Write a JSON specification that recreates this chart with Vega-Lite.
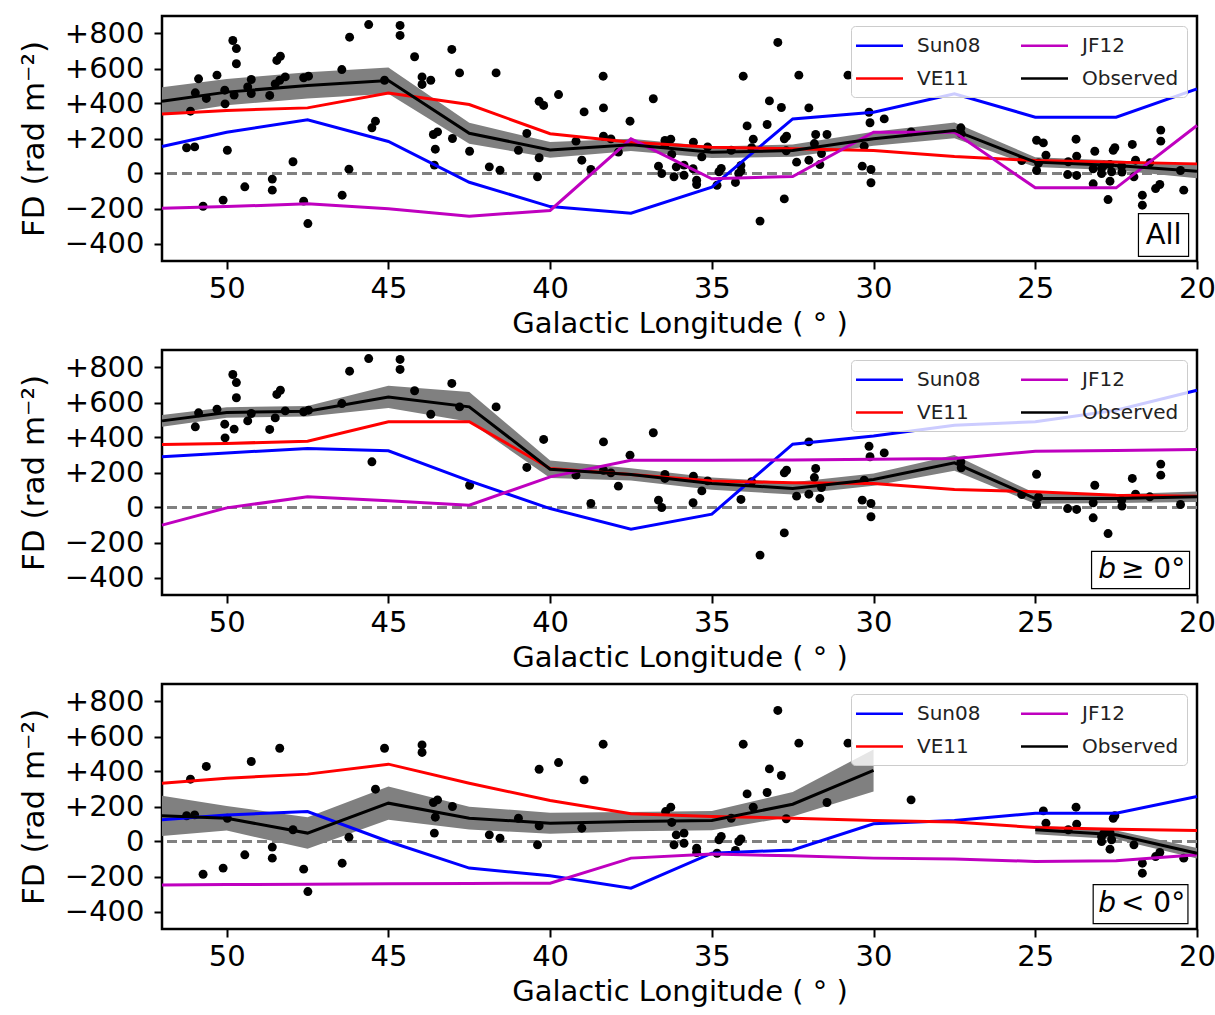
{
"$schema":"https://vega.github.io/schema/vega-lite/v6.json",
"padding":{"left":17,"top":14,"right":0,"bottom":0},
"spacing":8,
"config":{
 "font":"DejaVu Sans",
 "view":{"stroke":"black","strokeWidth":2.5},
 "axis":{"domain":false,"grid":false,"tickColor":"black","tickWidth":2,"tickSize":8,"labelFontSize":29,"labelColor":"black","labelFont":"DejaVu Sans","titleFont":"DejaVu Sans","titleFontSize":29,"titleFontWeight":"normal","titleColor":"black","labelPadding":5,"tickCount":7,"labelFlush":false},
 "axisX":{"titlePadding":6},
 "axisY":{"labelPadding":10,"titlePadding":14,"titleFontSize":31,"labelExpr":"datum.value > 0 ? '+' + datum.label : datum.label"},
 "legend":{"title":null,"orient":"top-right","offset":10,"columns":2,"symbolType":"M-2.35,0H2.35","symbolStrokeWidth":2.5,"symbolSize":400,"symbolOffset":9,"labelFontSize":20,"labelFont":"DejaVu Sans","labelColor":"#222222","labelOffset":26,"rowPadding":11,"columnPadding":35,"padding":8,"fillColor":"rgba(255,255,255,0.8)","strokeColor":"#cccccc","cornerRadius":4,"labelLimit":0}
},
"resolve":{"scale":{"color":"independent"},"legend":{"color":"independent"}},
"datasets":{
"pts":[
{"l":50.87,"fd":541,"b":"p"},{"l":50.97,"fd":461,"b":"p"},{"l":50.30,"fd":562,"b":"p"},{"l":50.06,"fd":476,"b":"p"},{"l":50.05,"fd":398,"b":"p"},{"l":49.77,"fd":448,"b":"p"},{"l":49.81,"fd":760,"b":"p"},{"l":49.70,"fd":714,"b":"p"},{"l":49.70,"fd":627,"b":"p"},{"l":49.35,"fd":495,"b":"p"},{"l":49.24,"fd":537,"b":"p"},{"l":48.67,"fd":446,"b":"p"},{"l":48.50,"fd":512,"b":"p"},{"l":48.45,"fd":646,"b":"p"},{"l":48.34,"fd":670,"b":"p"},{"l":48.19,"fd":552,"b":"p"},{"l":47.62,"fd":547,"b":"p"},{"l":47.47,"fd":556,"b":"p"},{"l":46.44,"fd":594,"b":"p"},{"l":46.20,"fd":779,"b":"p"},{"l":45.61,"fd":851,"b":"p"},{"l":45.51,"fd":261,"b":"p"},{"l":44.64,"fd":846,"b":"p"},{"l":44.64,"fd":789,"b":"p"},{"l":44.19,"fd":667,"b":"p"},{"l":43.69,"fd":533,"b":"p"},{"l":43.04,"fd":709,"b":"p"},{"l":42.80,"fd":575,"b":"p"},{"l":42.49,"fd":127,"b":"p"},{"l":41.67,"fd":575,"b":"p"},{"l":40.72,"fd":229,"b":"p"},{"l":40.20,"fd":389,"b":"p"},{"l":39.20,"fd":185,"b":"p"},{"l":38.74,"fd":23,"b":"p"},{"l":38.35,"fd":375,"b":"p"},{"l":38.35,"fd":213,"b":"p"},{"l":38.12,"fd":198,"b":"p"},{"l":37.89,"fd":122,"b":"p"},{"l":37.53,"fd":299,"b":"p"},{"l":36.81,"fd":427,"b":"p"},{"l":36.65,"fd":42,"b":"p"},{"l":36.55,"fd":0,"b":"p"},{"l":36.45,"fd":189,"b":"p"},{"l":36.45,"fd":166,"b":"p"},
{"l":35.57,"fd":179,"b":"p"},{"l":35.58,"fd":27,"b":"p"},{"l":35.31,"fd":95,"b":"p"},{"l":35.13,"fd":152,"b":"p"},{"l":34.10,"fd":46,"b":"p"},{"l":33.77,"fd":147,"b":"p"},{"l":33.51,"fd":-272,"b":"p"},{"l":32.76,"fd":-145,"b":"p"},{"l":32.76,"fd":198,"b":"p"},{"l":32.69,"fd":213,"b":"p"},{"l":32.38,"fd":65,"b":"p"},{"l":32.00,"fd":375,"b":"p"},{"l":32.00,"fd":76,"b":"p"},{"l":31.83,"fd":171,"b":"p"},{"l":31.79,"fd":223,"b":"p"},{"l":31.66,"fd":51,"b":"p"},{"l":31.61,"fd":114,"b":"p"},{"l":30.35,"fd":42,"b":"p"},{"l":30.29,"fd":156,"b":"p"},{"l":30.14,"fd":350,"b":"p"},{"l":30.11,"fd":290,"b":"p"},{"l":30.08,"fd":23,"b":"p"},{"l":30.08,"fd":-53,"b":"p"},{"l":29.67,"fd":312,"b":"p"},{"l":27.30,"fd":261,"b":"p"},{"l":27.29,"fd":227,"b":"p"},{"l":25.42,"fd":74,"b":"p"},{"l":24.96,"fd":190,"b":"p"},{"l":24.96,"fd":17,"b":"p"},{"l":24.90,"fd":60,"b":"p"},{"l":24.00,"fd":-6,"b":"p"},{"l":23.72,"fd":-11,"b":"p"},{"l":23.21,"fd":-59,"b":"p"},{"l":23.21,"fd":27,"b":"p"},{"l":23.16,"fd":127,"b":"p"},{"l":22.75,"fd":-149,"b":"p"},{"l":22.33,"fd":42,"b":"p"},{"l":22.32,"fd":8,"b":"p"},{"l":22.00,"fd":166,"b":"p"},{"l":21.90,"fd":76,"b":"p"},{"l":21.46,"fd":61,"b":"p"},{"l":21.12,"fd":248,"b":"p"},{"l":21.12,"fd":185,"b":"p"},{"l":20.51,"fd":17,"b":"p"},
{"l":51.24,"fd":147,"b":"n"},{"l":50.99,"fd":152,"b":"n"},{"l":51.12,"fd":356,"b":"n"},{"l":50.63,"fd":429,"b":"n"},{"l":50.73,"fd":-187,"b":"n"},{"l":50.11,"fd":-152,"b":"n"},{"l":49.98,"fd":133,"b":"n"},{"l":49.44,"fd":-76,"b":"n"},{"l":49.24,"fd":457,"b":"n"},{"l":48.59,"fd":-32,"b":"n"},{"l":48.59,"fd":-95,"b":"n"},{"l":48.36,"fd":533,"b":"n"},{"l":47.95,"fd":67,"b":"n"},{"l":47.62,"fd":-158,"b":"n"},{"l":47.49,"fd":-286,"b":"n"},{"l":46.43,"fd":-124,"b":"n"},{"l":46.22,"fd":25,"b":"n"},{"l":45.40,"fd":299,"b":"n"},{"l":45.12,"fd":533,"b":"n"},{"l":43.96,"fd":552,"b":"n"},{"l":43.96,"fd":509,"b":"n"},{"l":43.61,"fd":223,"b":"n"},{"l":43.48,"fd":238,"b":"n"},{"l":43.55,"fd":139,"b":"n"},{"l":43.58,"fd":48,"b":"n"},{"l":43.02,"fd":200,"b":"n"},{"l":41.88,"fd":38,"b":"n"},{"l":41.55,"fd":19,"b":"n"},{"l":40.98,"fd":133,"b":"n"},{"l":40.34,"fd":413,"b":"n"},{"l":40.34,"fd":90,"b":"n"},{"l":40.39,"fd":-19,"b":"n"},{"l":39.74,"fd":451,"b":"n"},{"l":39.02,"fd":76,"b":"n"},{"l":38.95,"fd":352,"b":"n"},{"l":38.36,"fd":556,"b":"n"},{"l":36.43,"fd":171,"b":"n"},{"l":36.27,"fd":196,"b":"n"},{"l":36.24,"fd":109,"b":"n"},{"l":36.10,"fd":38,"b":"n"},{"l":36.17,"fd":-19,"b":"n"},
{"l":35.86,"fd":48,"b":"n"},{"l":35.86,"fd":-10,"b":"n"},{"l":35.47,"fd":-38,"b":"n"},{"l":35.47,"fd":-63,"b":"n"},{"l":34.84,"fd":-67,"b":"n"},{"l":34.78,"fd":10,"b":"n"},{"l":34.71,"fd":29,"b":"n"},{"l":34.27,"fd":-51,"b":"n"},{"l":34.17,"fd":0,"b":"n"},{"l":34.10,"fd":15,"b":"n"},{"l":34.40,"fd":133,"b":"n"},{"l":34.03,"fd":556,"b":"n"},{"l":33.91,"fd":272,"b":"n"},{"l":33.72,"fd":196,"b":"n"},{"l":33.29,"fd":280,"b":"n"},{"l":33.22,"fd":415,"b":"n"},{"l":32.96,"fd":749,"b":"n"},{"l":32.85,"fd":377,"b":"n"},{"l":32.70,"fd":130,"b":"n"},{"l":32.31,"fd":562,"b":"n"},{"l":31.44,"fd":223,"b":"n"},{"l":30.79,"fd":562,"b":"n"},{"l":28.84,"fd":238,"b":"n"},{"l":24.75,"fd":175,"b":"n"},{"l":24.67,"fd":105,"b":"n"},{"l":23.98,"fd":67,"b":"n"},{"l":23.74,"fd":196,"b":"n"},{"l":23.72,"fd":99,"b":"n"},{"l":22.95,"fd":29,"b":"n"},{"l":22.95,"fd":0,"b":"n"},{"l":22.88,"fd":48,"b":"n"},{"l":22.69,"fd":51,"b":"n"},{"l":22.69,"fd":-44,"b":"n"},{"l":22.59,"fd":133,"b":"n"},{"l":22.54,"fd":147,"b":"n"},{"l":22.64,"fd":10,"b":"n"},{"l":21.95,"fd":-19,"b":"n"},{"l":21.69,"fd":-124,"b":"n"},{"l":21.69,"fd":-181,"b":"n"},{"l":21.28,"fd":-86,"b":"n"},{"l":21.15,"fd":-63,"b":"n"},{"l":20.41,"fd":-95,"b":"n"}
],
"curves":[
{"p":"A","m":"Sun08","l":52,"fd":154,"s":1},{"p":"A","m":"Sun08","l":50,"fd":236,"s":1},{"p":"A","m":"Sun08","l":47.5,"fd":307,"s":1},{"p":"A","m":"Sun08","l":45,"fd":183,"s":1},{"p":"A","m":"Sun08","l":42.5,"fd":-50,"s":1},{"p":"A","m":"Sun08","l":40,"fd":-189,"s":1},{"p":"A","m":"Sun08","l":37.5,"fd":-227,"s":1},{"p":"A","m":"Sun08","l":35,"fd":-78,"s":1},{"p":"A","m":"Sun08","l":32.5,"fd":312,"s":1},{"p":"A","m":"Sun08","l":30,"fd":350,"s":1},{"p":"A","m":"Sun08","l":27.5,"fd":455,"s":1},{"p":"A","m":"Sun08","l":25,"fd":322,"s":1},{"p":"A","m":"Sun08","l":22.5,"fd":322,"s":1},{"p":"A","m":"Sun08","l":20,"fd":484,"s":1},
{"p":"A","m":"VE11","l":52,"fd":340,"s":1},{"p":"A","m":"VE11","l":50,"fd":360,"s":1},{"p":"A","m":"VE11","l":47.5,"fd":375,"s":1},{"p":"A","m":"VE11","l":45,"fd":460,"s":1},{"p":"A","m":"VE11","l":42.5,"fd":394,"s":1},{"p":"A","m":"VE11","l":40,"fd":227,"s":1},{"p":"A","m":"VE11","l":37.5,"fd":179,"s":1},{"p":"A","m":"VE11","l":35,"fd":150,"s":1},{"p":"A","m":"VE11","l":32.5,"fd":141,"s":1},{"p":"A","m":"VE11","l":30,"fd":131,"s":1},{"p":"A","m":"VE11","l":27.5,"fd":97,"s":1},{"p":"A","m":"VE11","l":25,"fd":74,"s":1},{"p":"A","m":"VE11","l":22.5,"fd":65,"s":1},{"p":"A","m":"VE11","l":20,"fd":55,"s":1},
{"p":"A","m":"JF12","l":52,"fd":-198,"s":1},{"p":"A","m":"JF12","l":50,"fd":-189,"s":1},{"p":"A","m":"JF12","l":47.5,"fd":-173,"s":1},{"p":"A","m":"JF12","l":45,"fd":-202,"s":1},{"p":"A","m":"JF12","l":42.5,"fd":-244,"s":1},{"p":"A","m":"JF12","l":40,"fd":-211,"s":1},{"p":"A","m":"JF12","l":37.5,"fd":198,"s":1},{"p":"A","m":"JF12","l":35,"fd":-30,"s":1},{"p":"A","m":"JF12","l":32.5,"fd":-17,"s":1},{"p":"A","m":"JF12","l":30,"fd":236,"s":1},{"p":"A","m":"JF12","l":27.5,"fd":236,"s":1},{"p":"A","m":"JF12","l":25,"fd":-82,"s":1},{"p":"A","m":"JF12","l":22.5,"fd":-82,"s":1},{"p":"A","m":"JF12","l":20,"fd":274,"s":1},
{"p":"A","m":"Observed","l":52,"fd":413,"lo":333,"hi":493,"s":1},{"p":"A","m":"Observed","l":50,"fd":465,"lo":390,"hi":540,"s":1},{"p":"A","m":"Observed","l":47.5,"fd":503,"lo":428,"hi":578,"s":1},{"p":"A","m":"Observed","l":45,"fd":531,"lo":456,"hi":606,"s":1},{"p":"A","m":"Observed","l":42.5,"fd":230,"lo":170,"hi":290,"s":1},{"p":"A","m":"Observed","l":40,"fd":135,"lo":90,"hi":180,"s":1},{"p":"A","m":"Observed","l":37.5,"fd":164,"lo":129,"hi":199,"s":1},{"p":"A","m":"Observed","l":35,"fd":122,"lo":89,"hi":155,"s":1},{"p":"A","m":"Observed","l":32.5,"fd":131,"lo":96,"hi":166,"s":1},{"p":"A","m":"Observed","l":30,"fd":198,"lo":158,"hi":238,"s":1},{"p":"A","m":"Observed","l":27.5,"fd":246,"lo":201,"hi":291,"s":1},{"p":"A","m":"Observed","l":25,"fd":65,"lo":37,"hi":93,"s":1},{"p":"A","m":"Observed","l":22.5,"fd":46,"lo":18,"hi":74,"s":1},{"p":"A","m":"Observed","l":20,"fd":13,"lo":-27,"hi":53,"s":1},
{"p":"P","m":"Sun08","l":52,"fd":290,"s":1},{"p":"P","m":"Sun08","l":50,"fd":312,"s":1},{"p":"P","m":"Sun08","l":47.5,"fd":337,"s":1},{"p":"P","m":"Sun08","l":45,"fd":324,"s":1},{"p":"P","m":"Sun08","l":42.5,"fd":152,"s":1},{"p":"P","m":"Sun08","l":40,"fd":-6,"s":1},{"p":"P","m":"Sun08","l":37.5,"fd":-124,"s":1},{"p":"P","m":"Sun08","l":35,"fd":-38,"s":1},{"p":"P","m":"Sun08","l":32.5,"fd":362,"s":1},{"p":"P","m":"Sun08","l":30,"fd":408,"s":1},{"p":"P","m":"Sun08","l":27.5,"fd":470,"s":1},{"p":"P","m":"Sun08","l":25,"fd":490,"s":1},{"p":"P","m":"Sun08","l":22.5,"fd":556,"s":1},{"p":"P","m":"Sun08","l":20,"fd":670,"s":1},
{"p":"P","m":"VE11","l":52,"fd":360,"s":1},{"p":"P","m":"VE11","l":50,"fd":366,"s":1},{"p":"P","m":"VE11","l":47.5,"fd":379,"s":1},{"p":"P","m":"VE11","l":45,"fd":490,"s":1},{"p":"P","m":"VE11","l":42.5,"fd":490,"s":1},{"p":"P","m":"VE11","l":40,"fd":223,"s":1},{"p":"P","m":"VE11","l":37.5,"fd":189,"s":1},{"p":"P","m":"VE11","l":35,"fd":152,"s":1},{"p":"P","m":"VE11","l":32.5,"fd":141,"s":1},{"p":"P","m":"VE11","l":30,"fd":137,"s":1},{"p":"P","m":"VE11","l":27.5,"fd":103,"s":1},{"p":"P","m":"VE11","l":25,"fd":90,"s":1},{"p":"P","m":"VE11","l":22.5,"fd":70,"s":1},{"p":"P","m":"VE11","l":20,"fd":65,"s":1},
{"p":"P","m":"JF12","l":52,"fd":-101,"s":1},{"p":"P","m":"JF12","l":50,"fd":-2,"s":1},{"p":"P","m":"JF12","l":47.5,"fd":61,"s":1},{"p":"P","m":"JF12","l":45,"fd":38,"s":1},{"p":"P","m":"JF12","l":42.5,"fd":13,"s":1},{"p":"P","m":"JF12","l":40,"fd":175,"s":1},{"p":"P","m":"JF12","l":37.5,"fd":270,"s":1},{"p":"P","m":"JF12","l":35,"fd":270,"s":1},{"p":"P","m":"JF12","l":32.5,"fd":272,"s":1},{"p":"P","m":"JF12","l":30,"fd":276,"s":1},{"p":"P","m":"JF12","l":27.5,"fd":280,"s":1},{"p":"P","m":"JF12","l":25,"fd":322,"s":1},{"p":"P","m":"JF12","l":22.5,"fd":326,"s":1},{"p":"P","m":"JF12","l":20,"fd":331,"s":1},
{"p":"P","m":"Observed","l":52,"fd":495,"lo":462,"hi":528,"s":1},{"p":"P","m":"Observed","l":50,"fd":543,"lo":513,"hi":573,"s":1},{"p":"P","m":"Observed","l":47.5,"fd":550,"lo":520,"hi":580,"s":1},{"p":"P","m":"Observed","l":45,"fd":632,"lo":568,"hi":696,"s":1},{"p":"P","m":"Observed","l":42.5,"fd":575,"lo":490,"hi":660,"s":1},{"p":"P","m":"Observed","l":40,"fd":219,"lo":169,"hi":269,"s":1},{"p":"P","m":"Observed","l":37.5,"fd":189,"lo":154,"hi":224,"s":1},{"p":"P","m":"Observed","l":35,"fd":137,"lo":102,"hi":172,"s":1},{"p":"P","m":"Observed","l":32.5,"fd":109,"lo":74,"hi":144,"s":1},{"p":"P","m":"Observed","l":30,"fd":160,"lo":125,"hi":195,"s":1},{"p":"P","m":"Observed","l":27.5,"fd":255,"lo":210,"hi":300,"s":1},{"p":"P","m":"Observed","l":25,"fd":51,"lo":21,"hi":81,"s":1},{"p":"P","m":"Observed","l":22.5,"fd":51,"lo":26,"hi":76,"s":1},{"p":"P","m":"Observed","l":20,"fd":61,"lo":31,"hi":91,"s":1},
{"p":"N","m":"Sun08","l":52,"fd":124,"s":1},{"p":"N","m":"Sun08","l":50,"fd":152,"s":1},{"p":"N","m":"Sun08","l":47.5,"fd":171,"s":1},{"p":"N","m":"Sun08","l":45,"fd":0,"s":1},{"p":"N","m":"Sun08","l":42.5,"fd":-152,"s":1},{"p":"N","m":"Sun08","l":40,"fd":-196,"s":1},{"p":"N","m":"Sun08","l":37.5,"fd":-267,"s":1},{"p":"N","m":"Sun08","l":35,"fd":-67,"s":1},{"p":"N","m":"Sun08","l":32.5,"fd":-48,"s":1},{"p":"N","m":"Sun08","l":30,"fd":101,"s":1},{"p":"N","m":"Sun08","l":27.5,"fd":120,"s":1},{"p":"N","m":"Sun08","l":25,"fd":162,"s":1},{"p":"N","m":"Sun08","l":22.5,"fd":162,"s":1},{"p":"N","m":"Sun08","l":20,"fd":257,"s":1},
{"p":"N","m":"VE11","l":52,"fd":333,"s":1},{"p":"N","m":"VE11","l":50,"fd":362,"s":1},{"p":"N","m":"VE11","l":47.5,"fd":385,"s":1},{"p":"N","m":"VE11","l":45,"fd":442,"s":1},{"p":"N","m":"VE11","l":42.5,"fd":333,"s":1},{"p":"N","m":"VE11","l":40,"fd":234,"s":1},{"p":"N","m":"VE11","l":37.5,"fd":158,"s":1},{"p":"N","m":"VE11","l":35,"fd":143,"s":1},{"p":"N","m":"VE11","l":32.5,"fd":133,"s":1},{"p":"N","m":"VE11","l":30,"fd":120,"s":1},{"p":"N","m":"VE11","l":27.5,"fd":111,"s":1},{"p":"N","m":"VE11","l":25,"fd":80,"s":1},{"p":"N","m":"VE11","l":22.5,"fd":70,"s":1},{"p":"N","m":"VE11","l":20,"fd":63,"s":1},
{"p":"N","m":"JF12","l":52,"fd":-248,"s":1},{"p":"N","m":"JF12","l":50,"fd":-246,"s":1},{"p":"N","m":"JF12","l":47.5,"fd":-244,"s":1},{"p":"N","m":"JF12","l":45,"fd":-242,"s":1},{"p":"N","m":"JF12","l":42.5,"fd":-240,"s":1},{"p":"N","m":"JF12","l":40,"fd":-238,"s":1},{"p":"N","m":"JF12","l":37.5,"fd":-95,"s":1},{"p":"N","m":"JF12","l":35,"fd":-72,"s":1},{"p":"N","m":"JF12","l":32.5,"fd":-82,"s":1},{"p":"N","m":"JF12","l":30,"fd":-95,"s":1},{"p":"N","m":"JF12","l":27.5,"fd":-100,"s":1},{"p":"N","m":"JF12","l":25,"fd":-114,"s":1},{"p":"N","m":"JF12","l":22.5,"fd":-110,"s":1},{"p":"N","m":"JF12","l":20,"fd":-76,"s":1},
{"p":"N","m":"Observed","l":52,"fd":147,"lo":32,"hi":262,"s":1},{"p":"N","m":"Observed","l":50,"fd":133,"lo":63,"hi":203,"s":1},{"p":"N","m":"Observed","l":47.5,"fd":48,"lo":-42,"hi":138,"s":1},{"p":"N","m":"Observed","l":45,"fd":219,"lo":124,"hi":314,"s":1},{"p":"N","m":"Observed","l":42.5,"fd":133,"lo":68,"hi":198,"s":1},{"p":"N","m":"Observed","l":40,"fd":105,"lo":45,"hi":165,"s":1},{"p":"N","m":"Observed","l":37.5,"fd":114,"lo":59,"hi":169,"s":1},{"p":"N","m":"Observed","l":35,"fd":120,"lo":65,"hi":175,"s":1},{"p":"N","m":"Observed","l":32.5,"fd":213,"lo":143,"hi":283,"s":1},{"p":"N","m":"Observed","l":30,"fd":406,"lo":286,"hi":526,"s":1},
{"p":"N","m":"Observed","l":25,"fd":67,"lo":42,"hi":92,"s":2},{"p":"N","m":"Observed","l":22.5,"fd":38,"lo":13,"hi":63,"s":2},{"p":"N","m":"Observed","l":20,"fd":-67,"lo":-97,"hi":-37,"s":2}
]
},
"vconcat":[
{
 "width":1035,"height":245,
 "layer":[
  {"data":{"values":[{"z":0}]},"mark":{"type":"rule","strokeDash":[10,5],"strokeWidth":3,"size":3,"color":"#808080"},"encoding":{"y":{"datum":0,"type":"quantitative"},"strokeWidth":{"value":3}}},
  {"encoding":{
    "x":{"field":"l","type":"quantitative","title":"Galactic Longitude ( ° )","scale":{"domain":[20,52],"reverse":true,"nice":false,"zero":false}},
    "y":{"field":"fd","type":"quantitative","title":"FD (rad m⁻²)","scale":{"domain":[-500,900],"nice":false,"zero":false}}
   },
   "layer":[
    {"data":{"name":"curves"},"transform":[{"filter":"datum.p=='A' && datum.m=='Observed'"}],"mark":{"type":"area","color":"#808080","opacity":1},"encoding":{"y":{"field":"lo","type":"quantitative","title":"FD (rad m⁻²)"},"y2":{"field":"hi"},"detail":{"field":"s","type":"nominal"}}},
    {"data":{"name":"pts"},"mark":{"type":"circle","size":80,"color":"black","opacity":1}},
    {"data":{"name":"curves"},"transform":[{"filter":"datum.p=='A' && datum.m!='Observed'"}],"mark":{"type":"line","strokeWidth":3},"encoding":{"color":{"field":"m","type":"nominal","scale":{"domain":["Sun08","VE11","JF12","Observed"],"range":["#0000ff","#ff0000","#bf00bf","#000000"]}}}},
    {"data":{"name":"curves"},"transform":[{"filter":"datum.p=='A' && datum.m=='Observed'"}],"mark":{"type":"line","strokeWidth":3},"encoding":{"color":{"field":"m","type":"nominal","scale":{"domain":["Sun08","VE11","JF12","Observed"],"range":["#0000ff","#ff0000","#bf00bf","#000000"]}},"detail":{"field":"s","type":"nominal"}}}
   ]
  },
  {"data":{"values":[{"t":"All"}]},"mark":{"type":"rect","fill":"white","stroke":"black","strokeWidth":1.2},"encoding":{"x":{"datum":21.81,"type":"quantitative"},"x2":{"datum":20.26},"y":{"datum":-229,"type":"quantitative"},"y2":{"datum":-474}}},
  {"data":{"values":[{"t":"All"}]},"mark":{"type":"text","fontSize":29,"align":"center","baseline":"middle","font":"DejaVu Sans","color":"black"},"encoding":{"x":{"datum":21.03,"type":"quantitative"},"y":{"datum":-352,"type":"quantitative"},"text":{"field":"t","type":"nominal"}}}
 ]
},
{
 "width":1035,"height":245,
 "layer":[
  {"data":{"values":[{"z":0}]},"mark":{"type":"rule","strokeDash":[10,5],"strokeWidth":3,"size":3,"color":"#808080"},"encoding":{"y":{"datum":0,"type":"quantitative"},"strokeWidth":{"value":3}}},
  {"encoding":{
    "x":{"field":"l","type":"quantitative","title":"Galactic Longitude ( ° )","scale":{"domain":[20,52],"reverse":true,"nice":false,"zero":false}},
    "y":{"field":"fd","type":"quantitative","title":"FD (rad m⁻²)","scale":{"domain":[-500,900],"nice":false,"zero":false}}
   },
   "layer":[
    {"data":{"name":"curves"},"transform":[{"filter":"datum.p=='P' && datum.m=='Observed'"}],"mark":{"type":"area","color":"#808080","opacity":1},"encoding":{"y":{"field":"lo","type":"quantitative","title":"FD (rad m⁻²)"},"y2":{"field":"hi"},"detail":{"field":"s","type":"nominal"}}},
    {"data":{"name":"pts"},"transform":[{"filter":"datum.b=='p'"}],"mark":{"type":"circle","size":80,"color":"black","opacity":1}},
    {"data":{"name":"curves"},"transform":[{"filter":"datum.p=='P' && datum.m!='Observed'"}],"mark":{"type":"line","strokeWidth":3},"encoding":{"color":{"field":"m","type":"nominal","scale":{"domain":["Sun08","VE11","JF12","Observed"],"range":["#0000ff","#ff0000","#bf00bf","#000000"]}}}},
    {"data":{"name":"curves"},"transform":[{"filter":"datum.p=='P' && datum.m=='Observed'"}],"mark":{"type":"line","strokeWidth":3},"encoding":{"color":{"field":"m","type":"nominal","scale":{"domain":["Sun08","VE11","JF12","Observed"],"range":["#0000ff","#ff0000","#bf00bf","#000000"]}},"detail":{"field":"s","type":"nominal"}}}
   ]
  },
  {"data":{"values":[{"t":"b","u":"≥ 0°"}]},"mark":{"type":"rect","fill":"white","stroke":"black","strokeWidth":1.2},"encoding":{"x":{"datum":23.26,"type":"quantitative"},"x2":{"datum":20.23},"y":{"datum":-251,"type":"quantitative"},"y2":{"datum":-463}}},
  {"data":{"values":[{"t":"b","u":"≥ 0°"}]},"mark":{"type":"text","fontSize":28,"align":"right","baseline":"middle","font":"DejaVu Sans","fontStyle":"italic","color":"black"},"encoding":{"x":{"datum":22.5,"type":"quantitative"},"y":{"datum":-357,"type":"quantitative"},"text":{"field":"t","type":"nominal"}}},
  {"data":{"values":[{"t":"b","u":"≥ 0°"}]},"mark":{"type":"text","fontSize":28,"align":"left","baseline":"middle","font":"DejaVu Sans","color":"black"},"encoding":{"x":{"datum":22.35,"type":"quantitative"},"y":{"datum":-357,"type":"quantitative"},"text":{"field":"u","type":"nominal"}}}
 ]
},
{
 "width":1035,"height":245,
 "layer":[
  {"data":{"values":[{"z":0}]},"mark":{"type":"rule","strokeDash":[10,5],"strokeWidth":3,"size":3,"color":"#808080"},"encoding":{"y":{"datum":0,"type":"quantitative"},"strokeWidth":{"value":3}}},
  {"encoding":{
    "x":{"field":"l","type":"quantitative","title":"Galactic Longitude ( ° )","scale":{"domain":[20,52],"reverse":true,"nice":false,"zero":false}},
    "y":{"field":"fd","type":"quantitative","title":"FD (rad m⁻²)","scale":{"domain":[-500,900],"nice":false,"zero":false}}
   },
   "layer":[
    {"data":{"name":"curves"},"transform":[{"filter":"datum.p=='N' && datum.m=='Observed'"}],"mark":{"type":"area","color":"#808080","opacity":1},"encoding":{"y":{"field":"lo","type":"quantitative","title":"FD (rad m⁻²)"},"y2":{"field":"hi"},"detail":{"field":"s","type":"nominal"}}},
    {"data":{"name":"pts"},"transform":[{"filter":"datum.b=='n'"}],"mark":{"type":"circle","size":80,"color":"black","opacity":1}},
    {"data":{"name":"curves"},"transform":[{"filter":"datum.p=='N' && datum.m!='Observed'"}],"mark":{"type":"line","strokeWidth":3},"encoding":{"color":{"field":"m","type":"nominal","scale":{"domain":["Sun08","VE11","JF12","Observed"],"range":["#0000ff","#ff0000","#bf00bf","#000000"]}}}},
    {"data":{"name":"curves"},"transform":[{"filter":"datum.p=='N' && datum.m=='Observed'"}],"mark":{"type":"line","strokeWidth":3},"encoding":{"color":{"field":"m","type":"nominal","scale":{"domain":["Sun08","VE11","JF12","Observed"],"range":["#0000ff","#ff0000","#bf00bf","#000000"]}},"detail":{"field":"s","type":"nominal"}}}
   ]
  },
  {"data":{"values":[{"t":"b","u":"< 0°"}]},"mark":{"type":"rect","fill":"white","stroke":"black","strokeWidth":1.2},"encoding":{"x":{"datum":23.21,"type":"quantitative"},"x2":{"datum":20.28},"y":{"datum":-246,"type":"quantitative"},"y2":{"datum":-469}}},
  {"data":{"values":[{"t":"b","u":"< 0°"}]},"mark":{"type":"text","fontSize":28,"align":"right","baseline":"middle","font":"DejaVu Sans","fontStyle":"italic","color":"black"},"encoding":{"x":{"datum":22.5,"type":"quantitative"},"y":{"datum":-357,"type":"quantitative"},"text":{"field":"t","type":"nominal"}}},
  {"data":{"values":[{"t":"b","u":"< 0°"}]},"mark":{"type":"text","fontSize":28,"align":"left","baseline":"middle","font":"DejaVu Sans","color":"black"},"encoding":{"x":{"datum":22.35,"type":"quantitative"},"y":{"datum":-357,"type":"quantitative"},"text":{"field":"u","type":"nominal"}}}
 ]
}
]
}
